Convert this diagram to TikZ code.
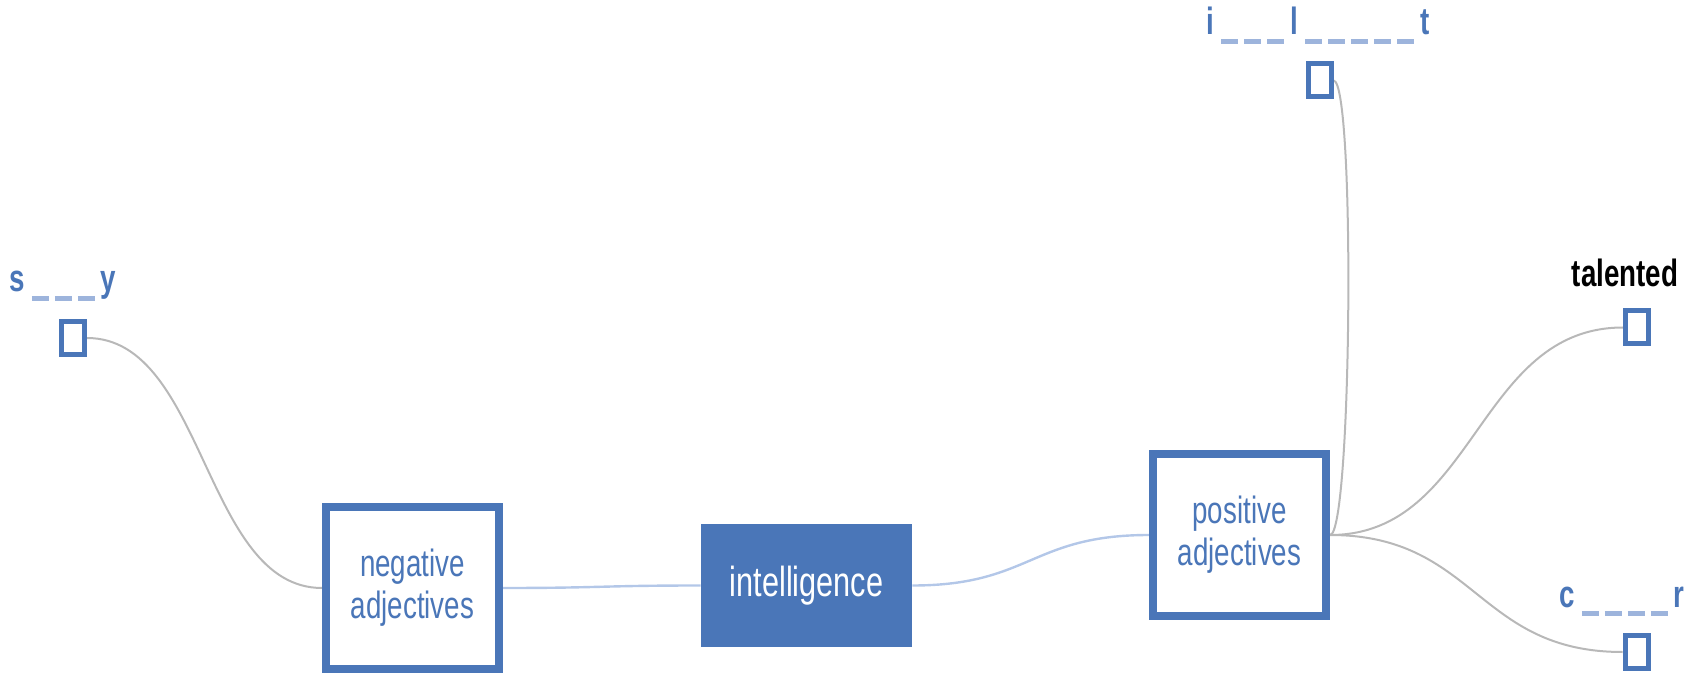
\documentclass[tikz,border=0pt]{standalone}
\usepackage{fontspec}
\usetikzlibrary{positioning,backgrounds}
\setmainfont{Liberation Sans}
\newfontfamily\narrow[FakeStretch=0.73]{Liberation Sans}
\definecolor{mapblue}{HTML}{4A76B8}
\definecolor{linkblue}{HTML}{B3C7E8}
\definecolor{linkgray}{HTML}{B8B8B8}
\definecolor{dashblue}{HTML}{9DB4DC}
\newcommand{\blanks}[1]{\hspace{3.5pt}\foreach \k in {1,...,#1}{\textcolor{dashblue}{\rule[-4.5pt]{8.5pt}{2.5pt}}\hspace{3pt}}}

\begin{document}
\begin{tikzpicture}[x=0.5pt,y=-0.5pt,
  catbox/.style={draw=mapblue,line width=4pt,fill=white,minimum width=86.5pt,minimum height=81pt,
    inner sep=0pt,align=center,text=mapblue,font=\narrow\fontsize{19}{21}\selectfont},
  leaf/.style={draw=mapblue,line width=2.5pt,fill=white,minimum width=11.5pt,minimum height=16.5pt,inner sep=0pt},
  word/.style={anchor=base,inner sep=0pt,text=mapblue,font=\narrow\bfseries\fontsize{19}{19}\selectfont},
  glink/.style={linkgray,line width=1pt},
  blink/.style={linkblue,line width=1.2pt}]
 \useasboundingbox (0,0) rectangle (1691,678);
 \node[fill=mapblue,minimum width=105.5pt,minimum height=61.5pt,inner sep=0pt,text=white,
   font=\narrow\fontsize{21}{24}\selectfont] (intel) at (806.5,585.5) {intelligence};
 \node[catbox] (neg) at (412.5,588) {negative\\adjectives};
 \node[catbox] (pos) at (1239.5,535) {positive\\adjectives};
 \node[leaf] (sy) at (73,338) {};
 \node[leaf] (il) at (1319.5,80.5) {};
 \node[leaf] (tal) at (1637,327.5) {};
 \node[leaf] (cr) at (1636.5,652) {};
 \node[word] (sylab) at (63,292) {s\blanks{3}y};
 \node[word] (illab) at (1318,35) {i\blanks{3}l\blanks{5}t};
 \node[word,text=black] (tallab) at (1625,287) {talented};
 \node[word] (crlab) at (1622,607) {c\blanks{4}r};
 \begin{pgfonlayer}{background}
  \draw[glink] (sy.east) .. controls +(118,0) and +(-118,0) .. (neg.west);
  \draw[blink] (neg.east) .. controls +(99,0) and +(-99,0) .. (intel.west);
  \draw[blink] (intel.east) .. controls +(118,0) and +(-118,0) .. (pos.west);
  \draw[glink] (pos.east) .. controls +(22,0) and +(22,0) .. (il.east);
  \draw[glink] (pos.east) .. controls +(146,0) and +(-146,0) .. (tal.west);
  \draw[glink] (pos.east) .. controls +(146,0) and +(-146,0) .. (cr.west);
 \end{pgfonlayer}
\end{tikzpicture}
\end{document}
